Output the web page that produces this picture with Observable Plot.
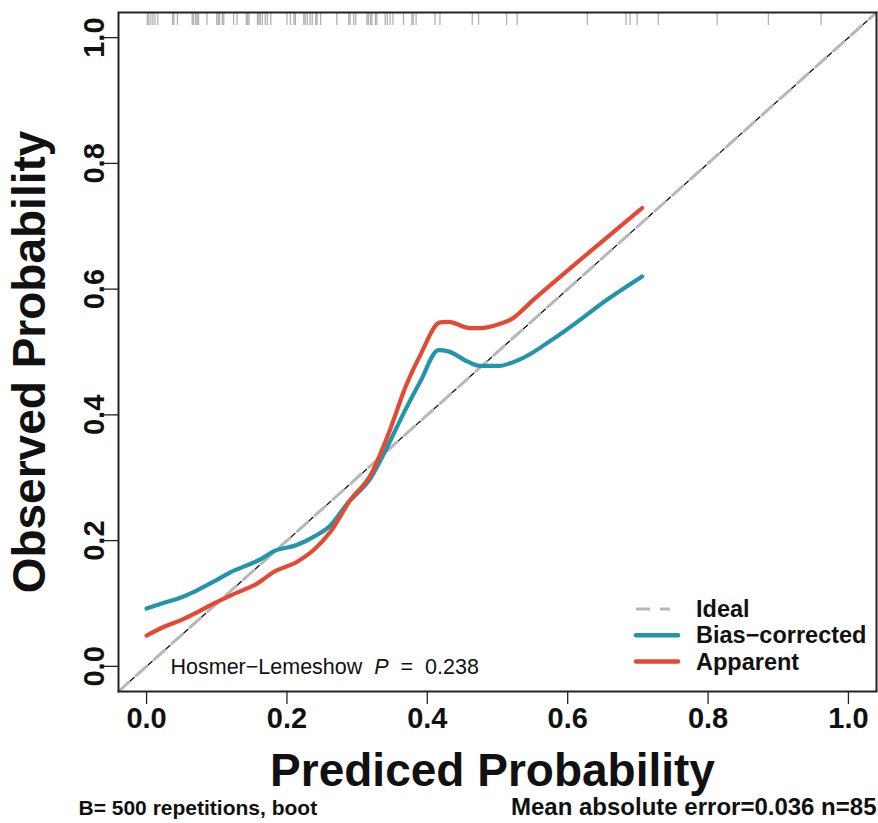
<!DOCTYPE html>
<html><head><meta charset="utf-8">
<script src="https://cdn.jsdelivr.net/npm/d3@7"></script>
<script src="https://cdn.jsdelivr.net/npm/@observablehq/plot@0.6"></script>
<style>
body{margin:0;background:#fff;}
svg{font-family:"Liberation Sans",Arial,Helvetica,sans-serif;}
</style>
</head><body><div id="chart"></div>
<script>
// Calibration curves (predicted vs observed probability)
const biasX = [0.000,0.025,0.050,0.072,0.096,0.120,0.148,0.162,0.181,0.214,0.238,0.262,0.286,0.319,0.343,0.366,0.390,0.416,0.430,0.457,0.475,0.504,0.518,0.594,0.656,0.706];
const biasY = [0.092,0.101,0.110,0.121,0.135,0.150,0.163,0.170,0.183,0.193,0.206,0.224,0.259,0.299,0.349,0.402,0.453,0.503,0.501,0.485,0.478,0.478,0.482,0.532,0.583,0.620];
const appX  = [0.000,0.025,0.050,0.072,0.096,0.120,0.158,0.181,0.214,0.238,0.262,0.290,0.319,0.343,0.371,0.390,0.418,0.430,0.461,0.475,0.504,0.518,0.551,0.706];
const appY  = [0.049,0.063,0.074,0.086,0.100,0.113,0.132,0.150,0.166,0.185,0.214,0.264,0.304,0.365,0.450,0.495,0.547,0.548,0.538,0.538,0.545,0.551,0.583,0.729];
// rug of predicted probabilities
const rugX = [0.001,0.003,0.006,0.009,0.012,0.016,0.037,0.039,0.044,0.065,0.067,0.070,0.072,0.074,0.086,
  0.100,0.102,0.104,0.108,0.110,0.124,0.129,0.142,0.144,0.146,0.158,0.160,0.162,0.165,0.169,0.172,0.177,
  0.200,0.205,0.210,0.212,0.224,0.226,0.229,0.233,0.236,0.241,0.243,0.248,0.271,0.288,0.290,0.295,0.298,
  0.314,0.316,0.319,0.321,0.326,0.328,0.340,0.343,0.347,0.351,0.366,0.378,0.380,0.384,0.411,0.418,
  0.464,0.473,0.513,0.528,0.628,0.683,0.689,0.699,0.729,0.813,0.886,0.961];
const idealLine = [-0.04, 1.04];
const xTicks = [0, 0.2, 0.4, 0.6, 0.8, 1.0];
const yTicks = [0, 0.2, 0.4, 0.6, 0.8, 1.0];
const legendLabels = ["Ideal", "Bias\u2212corrected", "Apparent"];
const hlLabel = "Hosmer\u2212Lemeshow";
const hlP = "0.238";
const xLabel = "Prediced Probability";
const yLabel = "Observed Probability";
const captionLeft = "B= 500 repetitions, boot";
const captionRight = "Mean absolute error=0.036 n=85";

const teal = "#2394a9", red = "#e34a33", gray = "#b5b8b8";
const bias = biasX.map((x, i) => ({x, y: biasY[i]}));
const app = appX.map((x, i) => ({x, y: appY[i]}));
const ideal = idealLine.map(v => ({x: v, y: v}));

const plot = Plot.plot({
  width: 878, height: 823,
  marginLeft: 118, marginRight: 2, marginTop: 12, marginBottom: 132,
  x: {domain: [-0.04, 1.04]},
  y: {domain: [-0.04, 1.04]},
  marks: [
    Plot.ruleX(rugX, {x: d => d, stroke: "#666", strokeOpacity: 0.5, strokeWidth: 1.3, insetTop: 1, insetBottom: 666}),
    Plot.line(ideal, {x: "x", y: "y", stroke: gray, strokeWidth: 3, strokeDasharray: "14,10"}),
    Plot.line(ideal, {x: "x", y: "y", stroke: "#111", strokeWidth: 1.3, strokeDasharray: "5,19", strokeDashoffset: -16}),
    Plot.line(bias, {x: "x", y: "y", curve: "monotone-x", stroke: teal, strokeWidth: 4.2, strokeLinejoin: "round", strokeLinecap: "round"}),
    Plot.line(app, {x: "x", y: "y", curve: "monotone-x", stroke: red, strokeWidth: 4.2, strokeLinejoin: "round", strokeLinecap: "round"}),
    Plot.frame({stroke: "#222", strokeWidth: 2}),
    Plot.axisX({ticks: xTicks, tickSize: 13, tickPadding: 3, tickFormat: d3.format(".1f"), fontSize: 29, fontWeight: "bold", label: null, strokeWidth: 1.3, stroke: "#222", fill: "#111"}),
    Plot.axisY({ticks: yTicks, tickSize: 14, tickPadding: 1, tickRotate: -90, tickFormat: d3.format(".1f"), fontSize: 29, fontWeight: "bold", label: null, strokeWidth: 1.3, stroke: "#222", fill: "#111"}),
    Plot.text([xLabel], {text: d => d, frameAnchor: "bottom", dx: -5, dy: 94, textAnchor: "middle", lineAnchor: "bottom", fontSize: 46, fontWeight: "bold", fill: "#111"}),
    Plot.text([yLabel], {text: d => d, frameAnchor: "left", dx: -74, dy: 10, rotate: -90, textAnchor: "middle", lineAnchor: "bottom", fontSize: 46, fontWeight: "bold", fill: "#111"}),
    Plot.text([captionLeft], {text: d => d, frameAnchor: "bottom-left", dx: -40, dy: 123, textAnchor: "start", lineAnchor: "bottom", fontSize: 21, fontWeight: "bold", fill: "#111"}),
    Plot.text([captionRight], {text: d => d, frameAnchor: "bottom-right", dx: 0, dy: 123, textAnchor: "end", lineAnchor: "bottom", fontSize: 24, fontWeight: "bold", fill: "#111"}),
    Plot.text([hlLabel], {text: d => d, frameAnchor: "bottom-left", dx: 52, dy: -18, textAnchor: "start", lineAnchor: "bottom", fontSize: 21.5, fill: "#111"})
  ]
});

document.getElementById("chart").appendChild(plot);
const svg = d3.select(plot);

// Hosmer-Lemeshow label with italic P
svg.selectAll("text").filter(function () { return this.textContent === hlLabel; })
  .each(function () {
    const t = d3.select(this);
    t.style("white-space", "pre");
    t.text(hlLabel + "  ");
    t.append("tspan").attr("font-style", "italic").text("P");
    t.append("tspan").text("  =  " + hlP);
  });

// Legend
const items = [
  {label: legendLabels[0], stroke: gray, w: 3, dash: "14,10"},
  {label: legendLabels[1], stroke: teal, w: 4.5, dash: null},
  {label: legendLabels[2], stroke: red, w: 4.5, dash: null}
];
const lg = svg.append("g").attr("font-weight", "bold").attr("font-size", 23.5).attr("fill", "#111").attr("text-anchor", "start");
items.forEach((it, i) => {
  const y = 609 + 26.3 * i;
  const ln = lg.append("line").attr("x1", 636).attr("x2", it.dash ? 670 : 678)
    .attr("y1", y).attr("y2", y).attr("stroke", it.stroke).attr("stroke-width", it.w).attr("stroke-linecap", it.dash ? "butt" : "round");
  if (it.dash) ln.attr("stroke-dasharray", it.dash);
  lg.append("text").attr("x", 696).attr("y", y + 8).attr("text-anchor", "start").text(it.label);
});
</script>
</body></html>
